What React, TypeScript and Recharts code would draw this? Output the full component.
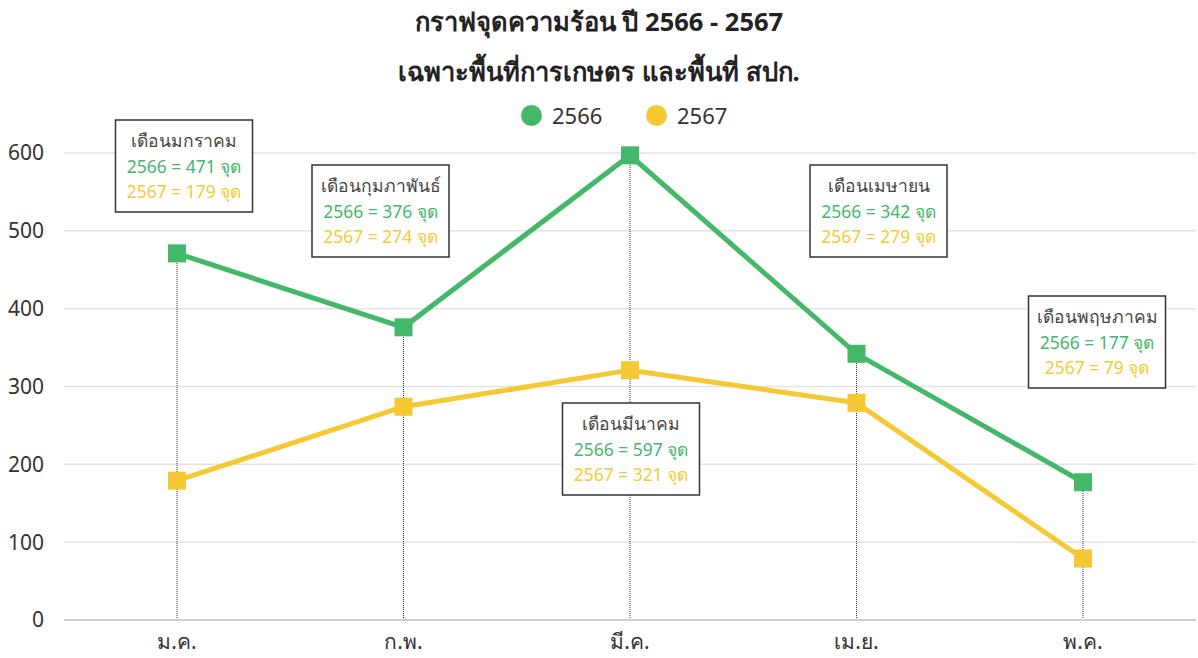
import React from 'react'
import {
  LineChart,
  Line,
  XAxis,
  YAxis,
  CartesianGrid,
  ReferenceLine,
  ReferenceDot,
} from 'recharts'

const months = ['ม.ค.', 'ก.พ.', 'มี.ค.', 'เม.ย.', 'พ.ค.']
const monthNames = ['เดือนมกราคม', 'เดือนกุมภาพันธ์', 'เดือนมีนาคม', 'เดือนเมษายน', 'เดือนพฤษภาคม']
const hot2566 = [471, 376, 597, 342, 177]
const hot2567 = [179, 274, 321, 279, 79]
const yTicks = [0, 100, 200, 300, 400, 500, 600]

const GREEN = '#43b869'
const YELLOW = '#f6c934'
const FONT = '"Noto Sans", "Open Sans", sans-serif'

// where each note box sits: shift from the month tick, and its top edge
const notePos = [
  { dx: 7, top: 120 },
  { dx: -23, top: 165 },
  { dx: 1, top: 403 },
  { dx: 22, top: 165 },
  { dx: 14, top: 296 },
]

const data = months.map((m, i) => ({
  month: m,
  name: monthNames[i],
  y2566: hot2566[i],
  y2567: hot2567[i],
}))

const SquareDot = (color: string) => (props: any) => {
  const { cx, cy, index } = props
  if (cx == null || cy == null) return null
  return <rect key={`sq-${color}-${index}`} x={cx - 9} y={cy - 9} width={18} height={18} fill={color} />
}

const NoteBox = (i: number) => (props: any) => {
  const vb = props.viewBox || {}
  const cx = (vb.x ?? 0) + (vb.width ?? 0) / 2 + notePos[i].dx
  const w = 137
  const h = 92
  const top = notePos[i].top
  return (
    <g>
      <rect x={cx - w / 2} y={top} width={w} height={h} fill="#fff" stroke="#333" strokeWidth={1.5} />
      <text x={cx} y={top + 27} textAnchor="middle" fill="#444" fontSize={17.5} fontFamily={FONT}>
        {monthNames[i]}
      </text>
      <text x={cx} y={top + 53} textAnchor="middle" fill={GREEN} fontSize={17.5} fontFamily={FONT}>
        {`2566 = ${hot2566[i]} จุด`}
      </text>
      <text x={cx} y={top + 78} textAnchor="middle" fill={YELLOW} fontSize={17.5} fontFamily={FONT}>
        {`2567 = ${hot2567[i]} จุด`}
      </text>
    </g>
  )
}

const legendItems = [
  { label: '2566', color: GREEN, left: 521 },
  { label: '2567', color: YELLOW, left: 646 },
]

export default function App() {
  return (
    <div style={{ position: 'fixed', left: 0, top: 0, width: 1198, height: 658, background: '#fff', fontFamily: FONT }}>
      <div style={{ position: 'absolute', top: -4, left: 0, width: 1198, textAlign: 'center', fontWeight: 700, fontSize: 25.5, color: '#222', lineHeight: '50px' }}>
        <div>กราฟจุดความร้อน ปี 2566 - 2567</div>
        <div>เฉพาะพื้นที่การเกษตร และพื้นที่ สปก.</div>
      </div>
      {legendItems.map((it) => (
        <div
          key={it.label}
          style={{ position: 'absolute', top: 101, left: it.left, display: 'flex', alignItems: 'center', gap: 10, fontSize: 22, color: '#333', lineHeight: '28px' }}
        >
          <span style={{ width: 21, height: 21, borderRadius: '50%', background: it.color, display: 'inline-block' }} />
          {it.label}
        </div>
      ))}
      <LineChart width={1198} height={658} data={data} margin={{ top: 153, right: 2, bottom: 8, left: 0 }}>
        <CartesianGrid vertical={false} stroke="#e3e3e3" strokeWidth={1.5} />
        <XAxis
          dataKey="month"
          padding={{ left: 113, right: 113 }}
          tickLine={false}
          axisLine={{ stroke: '#cfcfcf', strokeWidth: 2 }}
          tick={{ fontSize: 21, fill: '#333', fontFamily: FONT }}
          tickMargin={8}
        />
        <YAxis
          domain={[0, 600]}
          ticks={yTicks}
          width={64}
          axisLine={false}
          tickLine={false}
          tick={{ fontSize: 21, fill: '#333', fontFamily: FONT }}
          tickMargin={14}
        />
        <Line
          dataKey="y2567"
          stroke={YELLOW}
          strokeWidth={5}
          dot={SquareDot(YELLOW)}
          activeDot={false}
          isAnimationActive={false}
        />
        <Line
          dataKey="y2566"
          stroke={GREEN}
          strokeWidth={5}
          dot={SquareDot(GREEN)}
          activeDot={false}
          isAnimationActive={false}
        />
        {data.map((d) => (
          <ReferenceLine
            key={`v-${d.month}`}
            segment={[
              { x: d.month, y: 0 },
              { x: d.month, y: Math.max(d.y2566, d.y2567) },
            ]}
            stroke="#333"
            strokeWidth={1}
            strokeDasharray="1 1"
          />
        ))}
        {data.map((d, i) => (
          <ReferenceDot
            key={`n-${d.month}`}
            x={d.month}
            y={d.y2566}
            r={0}
            fill="none"
            stroke="none"
            label={NoteBox(i)}
          />
        ))}
      </LineChart>
    </div>
  )
}
